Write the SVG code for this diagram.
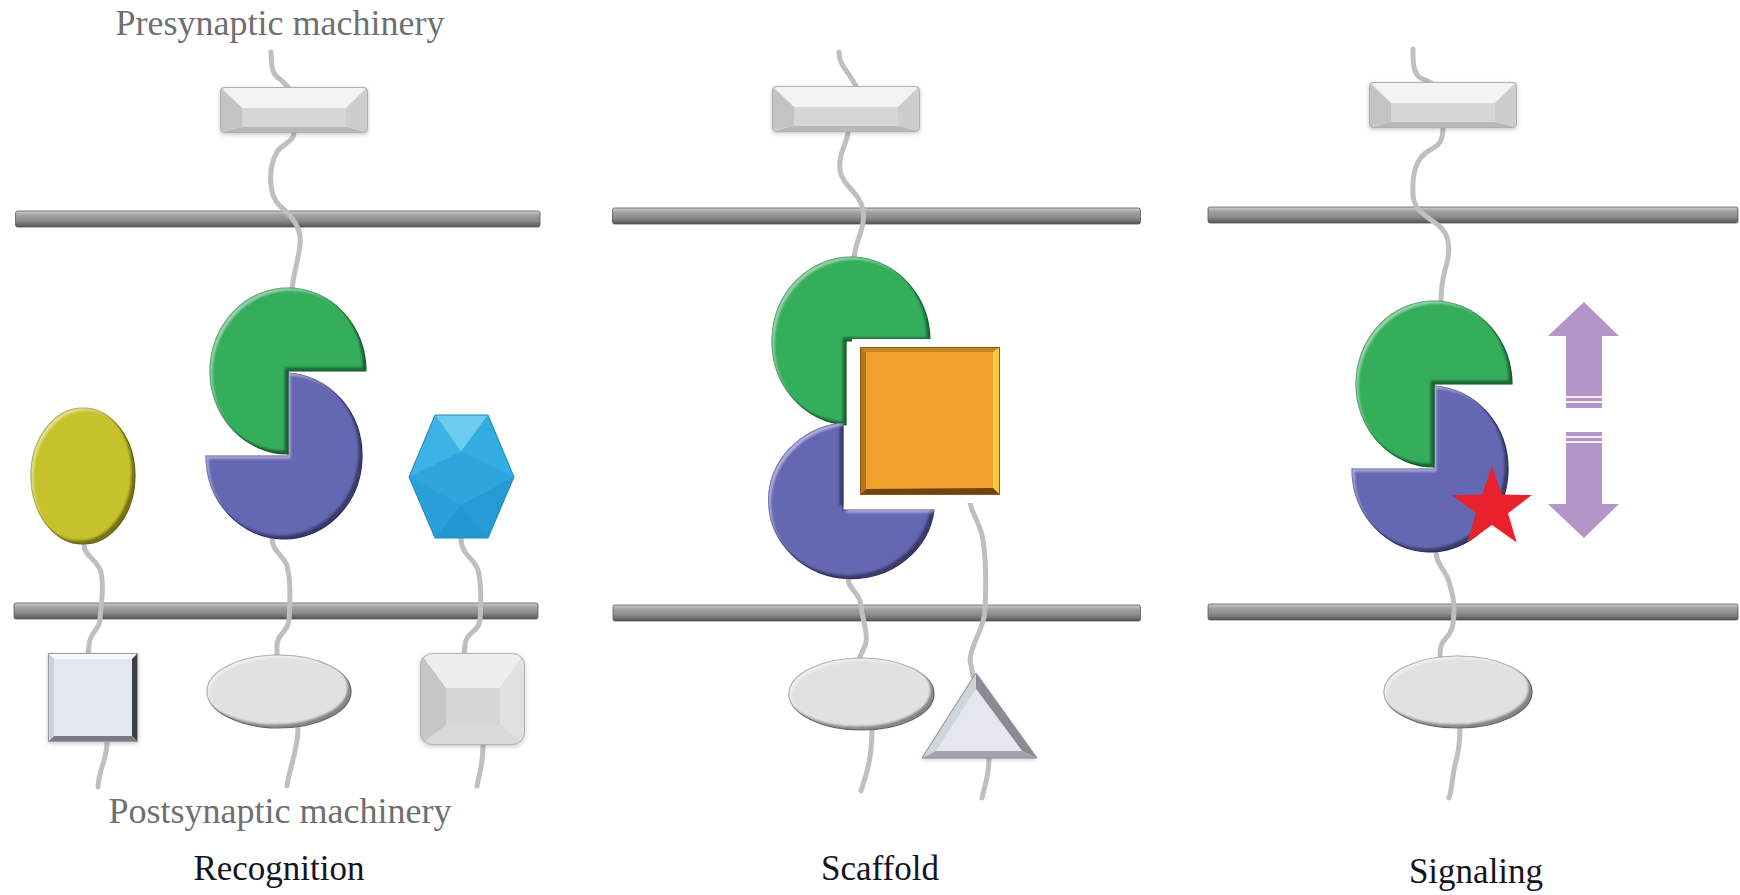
<svg xmlns="http://www.w3.org/2000/svg" width="1740" height="895" viewBox="0 0 1740 895">
  <style>
    .tail { fill: none; stroke: #bfbfbf; stroke-width: 5; stroke-linecap: round; stroke-linejoin: round; }
    .mem { fill: url(#memGrad); stroke: #5a5a5a; stroke-width: 0.8; }
    .label { font-family: "Liberation Serif", "Times New Roman", serif; font-size: 36px; fill: #6f6f6f; text-anchor: middle; }
    .title { font-family: "Liberation Serif", "Times New Roman", serif; font-size: 35px; fill: #14141e; text-anchor: middle; }
    .green { fill: #34ae5b; stroke: #1e7d3d; stroke-width: 1.2; filter: url(#bevel); }
    .blue { fill: #6467b1; stroke: #3b3e8c; stroke-width: 1.2; filter: url(#bevel); }
    .greyOval { fill: #e1e1e1; stroke: #8e8e8e; stroke-width: 1.2; filter: url(#bevel); }
    .purple { fill: #b495c8; }
    .stripe { fill: #ffffff; opacity: 0.85; }
  </style>
  <defs>
    <linearGradient id="memGrad" x1="0" y1="0" x2="0" y2="1">
      <stop offset="0" stop-color="#cfcfcf"/>
      <stop offset="0.25" stop-color="#a2a2a2"/>
      <stop offset="0.6" stop-color="#8c8c8c"/>
      <stop offset="0.85" stop-color="#6c6c6c"/>
      <stop offset="1" stop-color="#4e4e4e"/>
    </linearGradient>
    <filter id="bevel" x="-5%" y="-5%" width="110%" height="110%" color-interpolation-filters="sRGB">
      <feOffset in="SourceAlpha" dx="-4" dy="-4" result="sh"/>
      <feComposite in="SourceAlpha" in2="sh" operator="out" result="rimD"/>
      <feGaussianBlur in="rimD" stdDeviation="1.3" result="rimDb"/>
      <feComposite in="rimDb" in2="SourceAlpha" operator="in" result="rimDc"/>
      <feFlood flood-color="#000000" flood-opacity="0.42" result="fd"/>
      <feComposite in="fd" in2="rimDc" operator="in" result="dark"/>
      <feOffset in="SourceAlpha" dx="3" dy="3" result="hl"/>
      <feComposite in="SourceAlpha" in2="hl" operator="out" result="rimL"/>
      <feGaussianBlur in="rimL" stdDeviation="1.2" result="rimLb"/>
      <feComposite in="rimLb" in2="SourceAlpha" operator="in" result="rimLc"/>
      <feFlood flood-color="#ffffff" flood-opacity="0.5" result="fl"/>
      <feComposite in="fl" in2="rimLc" operator="in" result="light"/>
      <feMerge>
        <feMergeNode in="SourceGraphic"/>
        <feMergeNode in="dark"/>
        <feMergeNode in="light"/>
      </feMerge>
    </filter>
    <filter id="soft" x="-10%" y="-20%" width="120%" height="140%">
      <feDropShadow dx="0" dy="1.5" stdDeviation="2" flood-color="#000" flood-opacity="0.22"/>
    </filter>
    <!-- bevelled presynaptic block, 148 x 46 -->
    <g id="preBox">
      <rect x="0" y="0" width="148" height="46" rx="4" fill="#d7d7d7" filter="url(#soft)"/>
      <polygon points="2,1 146,1 126,21 22,21" fill="#f3f3f3"/>
      <polygon points="1,2 22,21 22,40 1,44" fill="#c3c3c3"/>
      <polygon points="147,2 147,44 126,40 126,21" fill="#cdcdcd"/>
      <polygon points="2,45 22,40 126,40 146,45" fill="#b8b8b8"/>
      <rect x="22" y="21" width="104" height="19" fill="#d6d6d6"/>
      <rect x="0.5" y="0.5" width="147" height="45" rx="4" fill="none" stroke="#b0b0b0" stroke-width="1"/>
    </g>
    <!-- interlocking pair: green missing lower-right quarter, blue missing upper-left quarter -->
    <path id="sGreen" d="M 366 371 A 78 83 0 1 0 288 454 L 288 371 Z"/>
    <path id="sBlue" d="M 288 373 A 78 83 0 1 1 206 456 L 288 456 Z"/>
  </defs>

  <rect width="1740" height="895" fill="#ffffff"/>

  <!-- membranes -->
  <g id="membranes">
    <rect class="mem" x="15.5" y="211" width="524.5" height="16" rx="2"/>
    <rect class="mem" x="14" y="603" width="524" height="16" rx="2"/>
    <rect class="mem" x="612.5" y="208" width="528" height="16" rx="2"/>
    <rect class="mem" x="613" y="605" width="527.5" height="16" rx="2"/>
    <rect class="mem" x="1208" y="207" width="530" height="16" rx="2"/>
    <rect class="mem" x="1208" y="604" width="530" height="16" rx="2"/>
  </g>

  <!-- protein tails (connectors) -->
  <g id="connectors">
    <!-- Recognition -->
    <path class="tail" d="M 271 52 C 272 65, 270 73, 281 80 L 289 88"/>
    <path class="tail" d="M 294 132 C 294 142, 282 144, 277 152 C 268 168, 268 195, 280 206 C 292 216, 302 228, 300 245 C 298 262, 293 275, 292 290"/>
    <path class="tail" d="M 84 545 C 84 556, 98 560, 101 572 C 105 590, 100 610, 100 620 C 99 630, 90 632, 89 645 L 88 654"/>
    <path class="tail" d="M 107 742 C 107 760, 99 768, 98 787"/>
    <path class="tail" d="M 272 538 C 272 552, 284 555, 287 566 C 291 580, 290 605, 289 620 C 288 632, 277 634, 277 645 L 277 656"/>
    <path class="tail" d="M 298 728 C 298 750, 290 765, 287 786"/>
    <path class="tail" d="M 461 538 C 461 555, 474 558, 478 570 C 482 585, 481 605, 480 620 C 479 632, 466 632, 465 645 L 464 654"/>
    <path class="tail" d="M 483 745 C 483 765, 479 775, 477 786"/>
    <!-- Scaffold -->
    <path class="tail" d="M 839 52 C 839 65, 848 72, 851 78 L 856 86"/>
    <path class="tail" d="M 848 133 C 846 145, 838 155, 840 170 C 842 186, 860 192, 863 210 C 866 228, 855 240, 854 259"/>
    <path class="tail" d="M 848 578 C 848 590, 860 592, 861 605 C 862 620, 868 630, 866 642 C 865 650, 860 652, 860 659"/>
    <path class="tail" d="M 872 730 C 872 755, 868 770, 861 791"/>
    <path class="tail" d="M 969 495 C 969 512, 980 520, 983 540 C 986 560, 986 590, 985 610 C 984 630, 972 640, 970 660 L 973 676"/>
    <path class="tail" d="M 989 758 C 989 775, 985 785, 982 798"/>
    <!-- Signaling -->
    <path class="tail" d="M 1413 49 C 1413 62, 1413 70, 1418 76 C 1422 80, 1428 80, 1431 83"/>
    <path class="tail" d="M 1443 127 C 1443 140, 1440 145, 1430 150 C 1415 158, 1412 175, 1413 195 C 1414 210, 1425 215, 1438 225 C 1452 235, 1450 255, 1445 270 C 1442 282, 1441 290, 1441 301"/>
    <path class="tail" d="M 1436 552 C 1436 565, 1446 570, 1449 582 C 1452 592, 1454 598, 1454 608 C 1454 625, 1452 632, 1446 638 C 1440 644, 1440 650, 1440 658"/>
    <path class="tail" d="M 1460 728 C 1460 745, 1458 755, 1455 765 C 1452 778, 1452 790, 1449 798"/>
  </g>

  <!-- ===== Recognition ===== -->
  <g id="rec-pre">
    <use href="#preBox" x="220" y="87"/>
  </g>

  <g id="rec-yellow">
    <ellipse cx="83" cy="476" rx="52" ry="68" fill="#c6c22b" stroke="#8e8a12" stroke-width="1.2" filter="url(#bevel)"/>
  </g>

  <g id="rec-pair">
    <use href="#sBlue" class="blue"/>
    <use href="#sGreen" class="green"/>
  </g>

  <g id="rec-hex">
    <polygon points="435,415 488,415 514,477 488,538 435,538 409,477" fill="#2ca5de"/>
    <polygon points="435,415 488,415 461,452" fill="#6ccbee"/>
    <polygon points="435,415 461,452 409,477" fill="#3db2e4"/>
    <polygon points="488,415 514,477 461,452" fill="#33ace1"/>
    <polygon points="409,477 461,452 514,477 461,505" fill="#2da6de"/>
    <polygon points="409,477 461,505 435,538" fill="#2aa0da"/>
    <polygon points="514,477 488,538 461,505" fill="#259bd5"/>
    <polygon points="435,538 461,505 488,538" fill="#2298d2"/>
    <polygon points="435,415 488,415 514,477 488,538 435,538 409,477" fill="none" stroke="#1f86bd" stroke-width="1"/>
  </g>

  <g id="rec-square">
    <rect x="48" y="653" width="90" height="89" fill="#e4e8f1" filter="url(#soft)"/>
    <polygon points="48,653 138,653 132,659 54,659" fill="#f6f7fb"/>
    <polygon points="48,653 54,659 54,736 48,742" fill="#cbd0da"/>
    <polygon points="138,653 138,742 132,736 132,659" fill="#3e3e44"/>
    <polygon points="48,742 54,736 132,736 138,742" fill="#7a7c84"/>
    <rect x="54" y="659" width="78" height="77" fill="#e3e7f0"/>
    <rect x="48.5" y="653.5" width="89" height="88" fill="none" stroke="#9a9ca4" stroke-width="1"/>
  </g>

  <g id="rec-oval">
    <ellipse class="greyOval" cx="279" cy="691.5" rx="72" ry="36.5"/>
  </g>

  <g id="rec-pillow">
    <clipPath id="pillowClip"><rect x="420" y="653" width="105" height="92" rx="12"/></clipPath>
    <rect x="420" y="653" width="105" height="92" rx="12" fill="#d6d6d6" filter="url(#soft)"/>
    <g clip-path="url(#pillowClip)">
      <polygon points="420,653 525,653 500,688 446,688" fill="#eeeeee"/>
      <polygon points="420,653 446,688 446,725 420,745" fill="#c6c6c6"/>
      <polygon points="525,653 525,745 500,725 500,688" fill="#e0e0e0"/>
      <polygon points="420,745 446,725 500,725 525,745" fill="#d9d9d9"/>
      <rect x="446" y="688" width="54" height="37" fill="#d6d6d6"/>
    </g>
    <rect x="420.5" y="653.5" width="104" height="91" rx="12" fill="none" stroke="#b4b4b4" stroke-width="1"/>
  </g>

  <!-- ===== Scaffold ===== -->
  <g id="sca-pre">
    <use href="#preBox" x="772" y="86"/>
  </g>

  <g id="sca-pair">
    <path class="green" d="M 930 341 A 79 84 0 1 0 846 425 L 846 341 Z"/>
    <path class="blue" d="M 843 423 A 83 78 0 1 0 934 510 L 843 510 Z"/>
  </g>

  <g id="sca-orange">
    <rect x="852" y="339" width="156" height="164" fill="#ffffff"/>
    <rect x="860" y="347" width="140" height="148" fill="#f0a02d"/>
    <polygon points="860,347 1000,347 994,352 866,352" fill="#c88420"/>
    <polygon points="860,347 866,352 866,489 860,495" fill="#b87418"/>
    <polygon points="1000,347 1000,495 993,488 993,352" fill="#f7c93a"/>
    <polygon points="860,495 866,489 993,488 1000,495" fill="#6e4410"/>
    <rect x="860.5" y="347.5" width="139" height="147" fill="none" stroke="#8a5a16" stroke-width="1"/>
  </g>

  <g id="sca-oval">
    <ellipse class="greyOval" cx="861.5" cy="694" rx="72.5" ry="36"/>
  </g>

  <g id="sca-triangle">
    <polygon points="976,673 1037,758 922,758" fill="#e3e6ee" filter="url(#soft)"/>
    <polygon points="976,673 922,758 936,751 976,689" fill="#d0d4dc"/>
    <polygon points="976,673 976,689 1022,751 1037,758" fill="#8a8c94"/>
    <polygon points="922,758 936,751 1022,751 1037,758" fill="#a2a4ac"/>
    <polygon points="976,689 1022,751 936,751" fill="#e4e7ef"/>
    <polygon points="976,673 1037,758 922,758" fill="none" stroke="#8c8e96" stroke-width="1"/>
  </g>

  <!-- ===== Signaling ===== -->
  <g id="sig-pre">
    <use href="#preBox" x="1369" y="82"/>
  </g>

  <g id="sig-pair" transform="translate(1146 13)">
    <use href="#sBlue" class="blue"/>
    <use href="#sGreen" class="green"/>
  </g>

  <g id="sig-star">
    <polygon fill="#e8212a" points="1492,466 1501.8,494.5 1532,495 1508,513.3 1516.7,542.4 1492,525 1467.3,542.4 1476,513.3 1452,495 1482.2,494.5"/>
  </g>

  <g id="sig-arrows">
    <polygon class="purple" points="1584,302 1619,336 1602,336 1602,408 1566,408 1566,336 1548,336"/>
    <rect class="stripe" x="1566" y="396" width="36" height="2"/>
    <rect class="stripe" x="1566" y="401" width="36" height="2"/>
    <polygon class="purple" points="1566,432 1602,432 1602,504 1619,504 1584,538 1548,504 1566,504"/>
    <rect class="stripe" x="1566" y="436" width="36" height="2"/>
    <rect class="stripe" x="1566" y="441" width="36" height="2"/>
  </g>

  <g id="sig-oval">
    <ellipse class="greyOval" cx="1458" cy="692" rx="74" ry="36"/>
  </g>

  <!-- labels -->
  <g id="labels">
    <text class="label" x="280" y="35">Presynaptic machinery</text>
    <text class="label" x="280" y="823">Postsynaptic machinery</text>
    <text class="title" x="279" y="880">Recognition</text>
    <text class="title" x="880" y="880">Scaffold</text>
    <text class="title" x="1476" y="883">Signaling</text>
  </g>
</svg>
